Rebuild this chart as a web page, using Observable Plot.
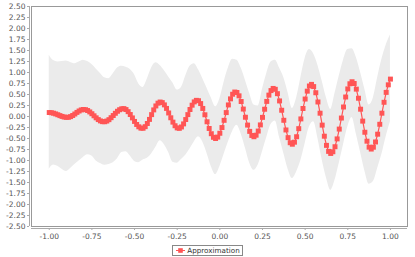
<!DOCTYPE html>
<html><head><meta charset="utf-8">
<script src="https://cdn.jsdelivr.net/npm/d3@7"></script>
<script src="https://cdn.jsdelivr.net/npm/@observablehq/plot@0.6"></script>
<style>
body{margin:0;background:#fff;font-family:"DejaVu Sans",sans-serif;}
#legend{width:415px;display:flex;justify-content:center;margin-top:1px;}
.lg{display:flex;align-items:center;border:1px solid #888;height:9px;padding:0 2px 0 3px;font-size:7.2px;color:#333;line-height:9px;}
.lg svg{margin-right:2px;}
</style></head><body><div id="chart"></div><div id="legend"></div>
<script>
const xTicks = [-1, -0.75, -0.5, -0.25, 0, 0.25, 0.5, 0.75, 1];
const yTicks = [-2.5,-2.25,-2,-1.75,-1.5,-1.25,-1,-0.75,-0.5,-0.25,0,0.25,0.5,0.75,1,1.25,1.5,1.75,2,2.25,2.5];
const xDomain = [-1.104, 1.1];
const yDomain = [-2.5, 2.5];
const seriesName = "Approximation";

const sampleX = [-1,-0.9875,-0.975,-0.9625,-0.95,-0.9375,-0.925,-0.9125,-0.9,-0.8875,-0.875,-0.8625,-0.85,-0.8375,-0.825,-0.8125,
-0.8,-0.7875,-0.775,-0.7625,-0.75,-0.7375,-0.725,-0.7125,-0.7,-0.6875,-0.675,-0.6625,-0.65,-0.6375,-0.625,-0.6125,
-0.6,-0.5875,-0.575,-0.5625,-0.55,-0.5375,-0.525,-0.5125,-0.5,-0.4875,-0.475,-0.4625,-0.45,-0.4375,-0.425,-0.4125,
-0.4,-0.3875,-0.375,-0.3625,-0.35,-0.3375,-0.325,-0.3125,-0.3,-0.2875,-0.275,-0.2625,-0.25,-0.2375,-0.225,-0.2125,
-0.2,-0.1875,-0.175,-0.1625,-0.15,-0.1375,-0.125,-0.1125,-0.1,-0.0875,-0.075,-0.0625,-0.05,-0.0375,-0.025,-0.0125,
0,0.0125,0.025,0.0375,0.05,0.0625,0.075,0.0875,0.1,0.1125,0.125,0.1375,0.15,0.1625,0.175,0.1875,
0.2,0.2125,0.225,0.2375,0.25,0.2625,0.275,0.2875,0.3,0.3125,0.325,0.3375,0.35,0.3625,0.375,0.3875,
0.4,0.4125,0.425,0.4375,0.45,0.4625,0.475,0.4875,0.5,0.5125,0.525,0.5375,0.55,0.5625,0.575,0.5875,
0.6,0.6125,0.625,0.6375,0.65,0.6625,0.675,0.6875,0.7,0.7125,0.725,0.7375,0.75,0.7625,0.775,0.7875,
0.8,0.8125,0.825,0.8375,0.85,0.8625,0.875,0.8875,0.9,0.9125,0.925,0.9375,0.95,0.9625,0.975,0.9875,1];

const approxY = [0.09,0.086,0.075,0.059,0.040,0.020,0.002,-0.012,-0.019,-0.018,-0.003,0.023,0.057,0.093,0.125,0.149,
0.160,0.155,0.136,0.104,0.063,0.016,-0.030,-0.070,-0.100,-0.117,-0.119,-0.103,-0.072,-0.027,0.022,0.073,
0.119,0.154,0.175,0.179,0.158,0.110,0.045,-0.032,-0.112,-0.181,-0.234,-0.265,-0.267,-0.231,-0.159,-0.066,
0.043,0.150,0.240,0.303,0.329,0.316,0.264,0.183,0.080,-0.029,-0.128,-0.210,-0.259,-0.269,-0.238,-0.168,
-0.069,0.043,0.159,0.257,0.332,0.367,0.359,0.294,0.183,0.039,-0.120,-0.272,-0.391,-0.473,-0.500,-0.468,
-0.381,-0.251,-0.087,0.089,0.263,0.401,0.506,0.556,0.546,0.470,0.341,0.169,-0.017,-0.195,-0.338,-0.431,
-0.460,-0.425,-0.331,-0.191,-0.020,0.165,0.343,0.486,0.589,0.638,0.618,0.519,0.354,0.142,-0.086,-0.306,
-0.480,-0.596,-0.630,-0.584,-0.460,-0.276,-0.055,0.182,0.397,0.576,0.693,0.730,0.680,0.540,0.330,0.075,
-0.196,-0.448,-0.656,-0.793,-0.840,-0.801,-0.687,-0.509,-0.286,-0.035,0.216,0.443,0.627,0.744,0.790,0.750,
0.622,0.415,0.166,-0.105,-0.358,-0.561,-0.697,-0.740,-0.698,-0.579,-0.402,-0.177,0.075,0.323,0.548,0.720,0.850];

const bandX = [-1,-0.975,-0.95,-0.925,-0.9,-0.875,-0.85,-0.825,-0.8,-0.775,
-0.75,-0.725,-0.7,-0.675,-0.65,-0.625,-0.6,-0.575,-0.55,-0.525,
-0.5,-0.475,-0.45,-0.425,-0.4,-0.375,-0.35,-0.325,-0.3,-0.275,
-0.25,-0.225,-0.2,-0.175,-0.15,-0.125,-0.1,-0.075,-0.05,-0.025,
0,0.025,0.05,0.075,0.1,0.125,0.15,0.175,0.2,0.225,
0.25,0.275,0.3,0.325,0.35,0.375,0.4,0.425,0.45,0.475,
0.5,0.525,0.55,0.575,0.6,0.625,0.65,0.675,0.7,0.725,
0.75,0.775,0.8,0.825,0.85,0.875,0.9,0.925,0.95,0.975,1];

const bandUpper = [1.39,1.27,1.24,1.25,1.26,1.23,1.20,1.24,1.28,1.25,
1.18,1.08,0.98,0.88,0.86,0.97,1.10,1.14,1.12,1.07,
0.95,0.74,0.66,0.85,1.10,1.22,1.16,1.04,0.90,0.76,
0.60,0.66,0.92,1.14,1.20,1.06,0.86,0.64,0.42,0.22,
0.40,0.78,1.10,1.30,1.28,1.10,0.82,0.52,0.26,0.24,
0.62,0.98,1.24,1.28,1.10,0.88,0.54,0.18,0.42,0.88,
1.32,1.52,1.42,1.16,0.80,0.42,0.16,0.52,0.92,1.28,
1.52,1.54,1.34,1.00,0.62,0.26,0.42,0.88,1.30,1.62,1.85];

const bandLower = [-1.20,-1.10,-1.13,-1.20,-1.25,-1.18,-1.09,-1.01,-0.93,-0.87,
-0.90,-1.01,-1.07,-1.11,-1.09,-1.05,-0.96,-0.82,-0.80,-0.90,
-1.02,-1.05,-0.99,-0.95,-0.85,-0.70,-0.55,-0.64,-0.82,-1.04,
-1.06,-0.98,-0.88,-0.74,-0.58,-0.46,-0.58,-0.84,-1.14,-1.32,
-1.14,-0.86,-0.58,-0.34,-0.20,-0.40,-0.72,-1.06,-1.22,-1.10,
-0.80,-0.48,-0.18,-0.10,-0.48,-0.84,-1.20,-1.41,-1.26,-1.00,
-0.62,-0.24,-0.12,-0.50,-0.99,-1.40,-1.68,-1.45,-1.06,-0.64,
-0.24,-0.02,-0.40,-0.82,-1.24,-1.54,-1.48,-1.18,-0.86,-0.46,-0.12];

const curveData = sampleX.map((x, i) => ({x, y: approxY[i]}));
const bandData = bandX.map((x, i) => ({x, lo: bandLower[i], hi: bandUpper[i]}));

const red = "#ff5555";
const fmt = d => d.toFixed(2);

const chart = Plot.plot({
  width: 415, height: 244,
  marginLeft: 31, marginRight: 8, marginTop: 6, marginBottom: 18,
  x: {domain: xDomain},
  y: {domain: yDomain},
  style: {fontFamily: "DejaVu Sans, sans-serif", fontSize: "7.5px", color: "#555", background: "#fff"},
  marks: [
    Plot.areaY(bandData, {x: "x", y1: "lo", y2: "hi", fill: "#ebebeb", curve: "monotone-x"}),
    Plot.frame({stroke: "#999"}),
    Plot.ruleY([yDomain[0]], {dy: 2, stroke: "#aaa"}),
    Plot.ruleX([xDomain[0]], {dx: -2, stroke: "#aaa"}),
    Plot.axisX({ticks: xTicks, tickFormat: fmt, tickSize: 2, tickPadding: 3, dy: 2, label: null, stroke: "#aaa"}),
    Plot.axisY({ticks: yTicks, tickFormat: fmt, tickSize: 2, tickPadding: 2, dx: -2, label: null, stroke: "#aaa"}),
    Plot.line(curveData, {x: "x", y: "y", stroke: red, strokeWidth: 1.2}),
    Plot.dot(curveData, {x: "x", y: "y", symbol: "square", r: 2.8, fill: red, stroke: "none"})
  ]
});
document.getElementById("chart").appendChild(chart);

const lg = document.createElement("div");
lg.className = "lg";
lg.innerHTML = `<svg width="9" height="9"><line x1="0" x2="9" y1="4.5" y2="4.5" stroke="${red}" stroke-width="1"/><rect x="2.2" y="2.2" width="4.6" height="4.6" fill="${red}"/></svg><span></span>`;
lg.querySelector("span").textContent = seriesName;
document.getElementById("legend").appendChild(lg);
</script></body></html>
